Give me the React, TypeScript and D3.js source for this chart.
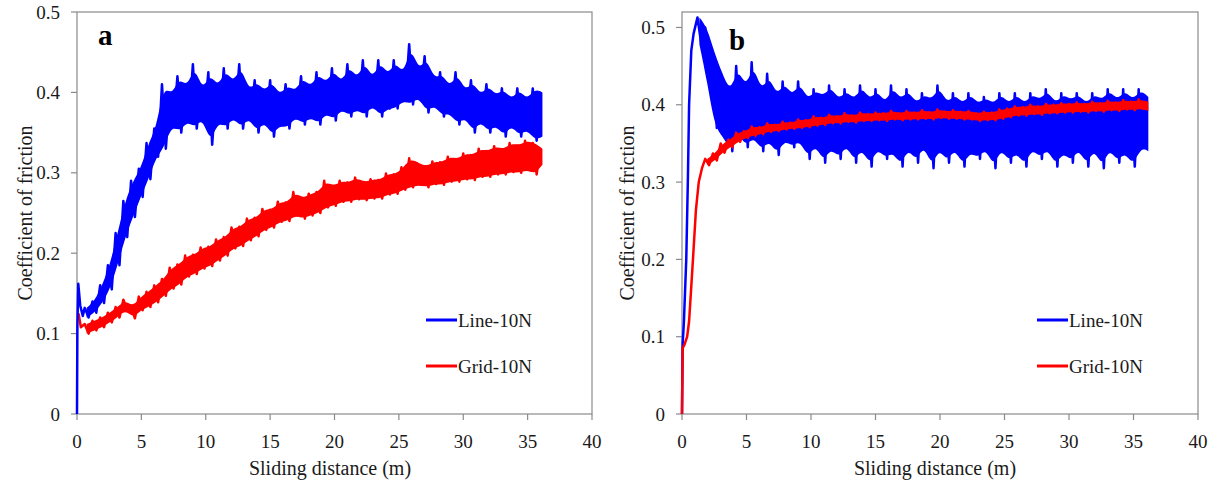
import React from 'react';
import * as d3 from 'd3';

// crests are read every STEP metres, each trough half a step after its crest
const STEP = 0.6;

// ---- panel a ----
// Line-10N
const aLineRunDist = [0, 0.03, 0.1, 0.25, 0.45];
const aLineRunCof = [0, 0.11, 0.162, 0.135, 0.122];
const aLineFrom = 0.6;
const aLineCrest = [
  0.132, 0.14, 0.16, 0.185, 0.225, 0.265, 0.29, 0.305, 0.337, 0.355,
  0.41, 0.395, 0.42, 0.405, 0.435, 0.40, 0.425, 0.405, 0.43, 0.41,
  0.435, 0.40, 0.415, 0.40, 0.415, 0.395, 0.41, 0.40, 0.42, 0.405,
  0.425, 0.41, 0.43, 0.41, 0.435, 0.415, 0.44, 0.415, 0.44, 0.42,
  0.44, 0.42, 0.46, 0.425, 0.445, 0.415, 0.425, 0.405, 0.425, 0.40,
  0.415, 0.395, 0.41, 0.395, 0.405, 0.39, 0.405, 0.39, 0.405, 0.40,
];
const aLineTrough = [
  0.12, 0.126, 0.138, 0.155, 0.185, 0.22, 0.245, 0.27, 0.292, 0.32,
  0.33, 0.36, 0.35, 0.365, 0.355, 0.37, 0.335, 0.365, 0.355, 0.37,
  0.355, 0.37, 0.35, 0.365, 0.345, 0.36, 0.355, 0.37, 0.36, 0.37,
  0.36, 0.375, 0.365, 0.38, 0.37, 0.38, 0.37, 0.385, 0.37, 0.38,
  0.38, 0.39, 0.385, 0.395, 0.375, 0.385, 0.37, 0.375, 0.36, 0.37,
  0.35, 0.365, 0.35, 0.36, 0.345, 0.36, 0.345, 0.355, 0.34, 0.345,
];
// Grid-10N
const aGridRunDist = [0.12, 0.3];
const aGridRunCof = [0.125, 0.108];
const aGridFrom = 0.6;
const aGridCrest = [
  0.112, 0.116, 0.12, 0.126, 0.133, 0.142, 0.133, 0.146, 0.152, 0.16,
  0.168, 0.182, 0.186, 0.197, 0.198, 0.207, 0.208, 0.217, 0.22, 0.232,
  0.233, 0.243, 0.244, 0.255, 0.254, 0.264, 0.263, 0.276, 0.268, 0.274,
  0.276, 0.29, 0.283, 0.29, 0.288, 0.294, 0.288, 0.292, 0.291, 0.299,
  0.298, 0.307, 0.318, 0.312, 0.308, 0.314, 0.313, 0.32, 0.317, 0.324,
  0.322, 0.33, 0.327, 0.333, 0.329, 0.337, 0.334, 0.34, 0.337, 0.33,
];
const aGridTrough = [
  0.10, 0.104, 0.108, 0.114, 0.12, 0.13, 0.119, 0.129, 0.133, 0.139,
  0.147, 0.156, 0.161, 0.171, 0.174, 0.181, 0.184, 0.191, 0.197, 0.206,
  0.209, 0.216, 0.221, 0.229, 0.232, 0.239, 0.24, 0.247, 0.243, 0.247,
  0.25, 0.257, 0.259, 0.264, 0.264, 0.267, 0.266, 0.268, 0.268, 0.273,
  0.274, 0.279, 0.282, 0.285, 0.282, 0.286, 0.285, 0.289, 0.289, 0.292,
  0.291, 0.295, 0.295, 0.298, 0.298, 0.301, 0.3, 0.304, 0.298, 0.31,
];

// ---- panel b ----
// Line-10N
const bLineRunDist = [0, 0.05, 0.15, 0.33, 0.46, 0.55, 0.72, 0.9];
const bLineRunCof = [0, 0.09, 0.12, 0.2, 0.307, 0.4, 0.47, 0.492];
const bLineFrom = 1.2;
const bLineCrest = [
  0.513, 0.50, 0.465,
  0.44, 0.415, 0.45, 0.42, 0.455, 0.415, 0.44, 0.41, 0.43, 0.41,
  0.43, 0.405, 0.42, 0.41, 0.425, 0.405, 0.42, 0.405, 0.425, 0.405,
  0.42, 0.40, 0.425, 0.405, 0.42, 0.40, 0.415, 0.405, 0.425, 0.40,
  0.415, 0.40, 0.415, 0.40, 0.41, 0.40, 0.415, 0.40, 0.415, 0.40,
  0.415, 0.405, 0.42, 0.40, 0.415, 0.405, 0.415, 0.40, 0.415, 0.405,
  0.42, 0.405, 0.42, 0.405, 0.42, 0.41,
];
const bLineTrough = [
  0.478, 0.43, 0.37,
  0.36, 0.34, 0.365, 0.345, 0.36, 0.34, 0.355, 0.335, 0.355, 0.345,
  0.355, 0.33, 0.35, 0.325, 0.345, 0.33, 0.35, 0.325, 0.345, 0.32,
  0.345, 0.33, 0.34, 0.32, 0.345, 0.325, 0.35, 0.318, 0.345, 0.325,
  0.345, 0.32, 0.34, 0.33, 0.345, 0.318, 0.345, 0.325, 0.34, 0.32,
  0.345, 0.33, 0.345, 0.32, 0.34, 0.325, 0.345, 0.32, 0.345, 0.318,
  0.345, 0.325, 0.34, 0.32, 0.345, 0.34,
];
// Grid-10N
const bGridRunDist = [0, 0.05, 0.2, 0.4, 0.55, 0.7, 0.85, 1.08, 1.3, 1.55];
const bGridRunCof = [0, 0.085, 0.09, 0.1, 0.12, 0.16, 0.2, 0.264, 0.3, 0.318];
const bGridFrom = 1.8;
const bGridCrest = [
  0.33, 0.337, 0.35, 0.355, 0.364, 0.366, 0.372, 0.371, 0.376, 0.374,
  0.378, 0.377, 0.381, 0.38, 0.385, 0.383, 0.387, 0.385, 0.389, 0.386,
  0.39, 0.388, 0.39, 0.389, 0.392, 0.389, 0.392, 0.39, 0.393, 0.39,
  0.394, 0.391, 0.393, 0.391, 0.392, 0.389, 0.391, 0.39, 0.394, 0.395,
  0.398, 0.397, 0.4, 0.398, 0.401, 0.4, 0.402, 0.401, 0.403, 0.401,
  0.404, 0.402, 0.405, 0.403, 0.406, 0.404, 0.407, 0.404,
];
const bGridTrough = [
  0.322, 0.328, 0.338, 0.345, 0.352, 0.357, 0.36, 0.362, 0.365, 0.366,
  0.368, 0.369, 0.37, 0.371, 0.373, 0.374, 0.376, 0.376, 0.378, 0.377,
  0.379, 0.379, 0.38, 0.379, 0.381, 0.38, 0.381, 0.381, 0.382, 0.381,
  0.383, 0.382, 0.382, 0.381, 0.381, 0.379, 0.38, 0.38, 0.382, 0.384,
  0.386, 0.386, 0.388, 0.387, 0.389, 0.389, 0.39, 0.39, 0.391, 0.39,
  0.392, 0.391, 0.393, 0.392, 0.394, 0.393, 0.395, 0.392,
];

const xTicks = [0, 5, 10, 15, 20, 25, 30, 35, 40];
const yTicks = [0, 0.1, 0.2, 0.3, 0.4, 0.5];
const seriesNames = ['Line-10N', 'Grid-10N'];
const BLUE = '#0000ff';
const RED = '#ff0000';
const seriesColors = [BLUE, RED];
const AXIS = '#8a8a8a';
const FONT = '"Liberation Serif", "Times New Roman", serif';

type Series = {
  name: string; color: string;
  runDist: number[]; runCof: number[]; from: number; crest: number[]; trough: number[];
};
type Band = { d: number; hi: number; lo: number };

// the measured trace: run-in, then crest / trough alternating
function tracePoints(s: Series): [number, number][] {
  const pts: [number, number][] = s.runDist.map((d, i) => [d, s.runCof[i]]);
  s.crest.forEach((c, k) => {
    pts.push([s.from + k * STEP, c]);
    if (k < s.crest.length - 1 && k < s.trough.length) pts.push([s.from + k * STEP + STEP / 2, s.trough[k]]);
  });
  return pts;
}
// dense body of the trace between the crests and the troughs
function bandPoints(s: Series): Band[] {
  const n = Math.min(s.crest.length, s.trough.length);
  return d3.range(n).map((k) => ({ d: s.from + k * STEP + STEP / 4, hi: s.crest[k], lo: s.trough[k] }));
}

function Panel(props: {
  left: number; right: number; top: number; bottom: number; yMax: number;
  letter: string; letterX: number; letterY: number; series: Series[];
  legendX: number; titleX: number; yTitleX: number;
}) {
  const { left, right, top, bottom, yMax, letter, letterX, letterY, series, legendX, titleX, yTitleX } = props;
  const x = d3.scaleLinear().domain([0, 40]).range([left, right]);
  const y = d3.scaleLinear().domain([0, yMax]).range([bottom, top]);
  const area = d3.area<Band>().x((p) => x(p.d)).y0((p) => y(p.lo)).y1((p) => y(p.hi)).curve(d3.curveBasis);
  const line = d3.line<[number, number]>().x((p) => x(p[0])).y((p) => y(p[1]));
  const legendY = [320, 366];
  return (
    <g fill="#1a1a1a">
      <rect x={left} y={top} width={right - left} height={bottom - top} fill="none" stroke={AXIS} strokeWidth={1.2} />
      {xTicks.map((t) => (
        <g key={'x' + t}>
          <line x1={x(t)} x2={x(t)} y1={bottom} y2={bottom + 6} stroke={AXIS} strokeWidth={1.2} />
          <text x={x(t)} y={bottom + 27} textAnchor="middle" dominantBaseline="central" fontSize={19}>{t}</text>
        </g>
      ))}
      {yTicks.map((t) => (
        <g key={'y' + t}>
          <line x1={left - 6} x2={left} y1={y(t)} y2={y(t)} stroke={AXIS} strokeWidth={1.2} />
          <text x={left - 17} y={y(t)} textAnchor="end" dominantBaseline="central" fontSize={19}>{t}</text>
        </g>
      ))}
      {series.map((s) => (
        <g key={s.name}>
          <path d={area(bandPoints(s)) ?? ''} fill={s.color} stroke="none" />
          <path d={line(tracePoints(s)) ?? ''} fill="none" stroke={s.color} strokeWidth={2.5} strokeLinejoin="round" />
        </g>
      ))}
      {seriesNames.map((name, i) => (
        <g key={'lg' + name}>
          <line x1={legendX} x2={legendX + 31} y1={legendY[i]} y2={legendY[i]} stroke={seriesColors[i]} strokeWidth={3} />
          <text x={legendX + 32} y={legendY[i]} dominantBaseline="central" fontSize={19}>{name}</text>
        </g>
      ))}
      <text x={letterX} y={letterY} fontSize={29} fontWeight="bold" fill="#000">{letter}</text>
      <text x={titleX} y={468} textAnchor="middle" dominantBaseline="central" fontSize={20}>Sliding distance (m)</text>
      <text transform={`translate(${yTitleX},${(top + bottom) / 2}) rotate(-90)`} textAnchor="middle" dominantBaseline="central" fontSize={20}>
        Coefficient of friction
      </text>
    </g>
  );
}

export default function App() {
  // drawing order: red on top of blue
  const seriesA: Series[] = [
    { name: seriesNames[1], color: RED, runDist: aGridRunDist, runCof: aGridRunCof, from: aGridFrom, crest: aGridCrest, trough: aGridTrough },
    { name: seriesNames[0], color: BLUE, runDist: aLineRunDist, runCof: aLineRunCof, from: aLineFrom, crest: aLineCrest, trough: aLineTrough },
  ];
  const seriesB: Series[] = [
    { name: seriesNames[0], color: BLUE, runDist: bLineRunDist, runCof: bLineRunCof, from: bLineFrom, crest: bLineCrest, trough: bLineTrough },
    { name: seriesNames[1], color: RED, runDist: bGridRunDist, runCof: bGridRunCof, from: bGridFrom, crest: bGridCrest, trough: bGridTrough },
  ];
  return (
    <svg width={1215} height={482} fontFamily={FONT}
      style={{ position: 'absolute', left: 0, top: 0, background: '#fff', fontFamily: FONT }}>
      <Panel left={77} right={592} top={12} bottom={414} yMax={0.5} letter="a" letterX={98} letterY={45}
        series={seriesA} legendX={426} titleX={330} yTitleX={25} />
      <Panel left={682} right={1198} top={12} bottom={414} yMax={0.52} letter="b" letterX={729} letterY={50}
        series={seriesB} legendX={1037} titleX={935} yTitleX={627} />
    </svg>
  );
}
